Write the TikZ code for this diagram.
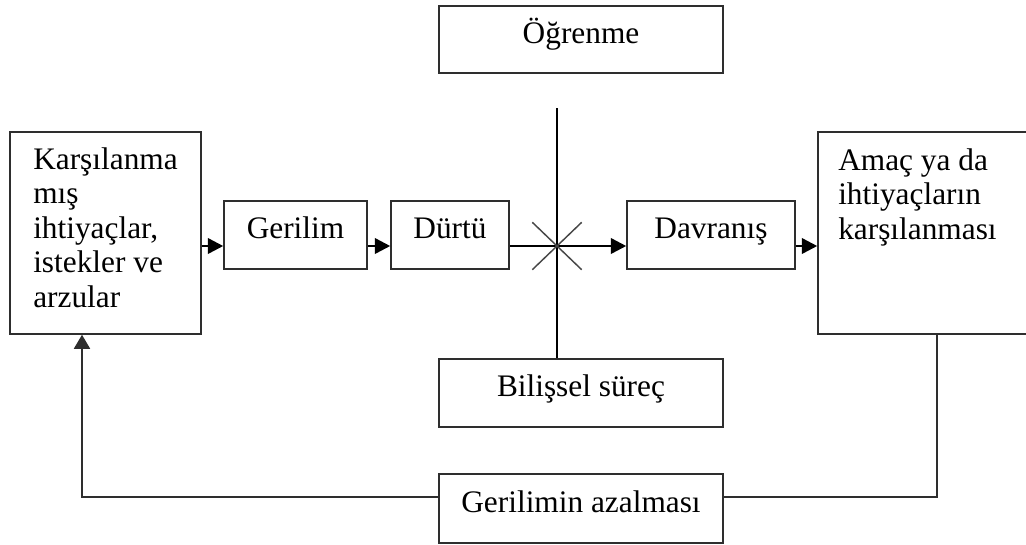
\documentclass[tikz,border=0pt]{standalone}
\usepackage{fontspec}
\setmainfont{Liberation Serif}
\usetikzlibrary{arrows.meta,shapes.misc}

\tikzset{
  box/.style={draw=black!82, line width=1.15pt, rectangle, inner sep=0pt,
    font=\fontsize{23.5}{25.9}\selectfont, text height=16pt, text depth=10.75pt},
  blocktext/.style={inner sep=0pt, anchor=base west},
  flow/.style={draw=black, line width=1.9pt,
    -{Triangle[length=11.5pt,width=11.5pt]}},
  feedback/.style={draw=black!82, line width=1.2pt},
  feedbackarrow/.style={feedback, line width=1.4pt,
    -{Triangle[length=10.5pt,width=12pt]}},
  divider/.style={draw=black, line width=1.1pt},
  crossmark/.style={draw=black!72, line width=1.1pt, cross out, inner sep=0pt,
    minimum width=36pt, minimum height=34.5pt},
}
\newcommand{\blocklines}[1]{\parbox[t]{8cm}{\raggedright
  \fontsize{23.5}{25.9}\selectfont #1}}

\begin{document}
\begin{tikzpicture}[x=0.75pt, y=-0.75pt]
  \clip (0,0) rectangle (1026,544);
  \fill[white] (0,0) rectangle (1026,544);

  % boxes
  \node[box, minimum width=213pt, minimum height=50.25pt] (ogr) at (581,39.5) {Öğrenme};
  \node[box, minimum width=143.25pt, minimum height=151.5pt] (kar) at (105.5,233) {};
  \node[box, minimum width=107.25pt, minimum height=51pt] (ger) at (295.5,235) {Gerilim};
  \node[box, minimum width=88.5pt, minimum height=51pt] (dur) at (450,235) {Dürtü};
  \node[box, minimum width=126pt, minimum height=51pt] (dav) at (711,235) {Davranış};
  \node[box, minimum width=170.25pt, minimum height=151.5pt] (ama) at (931.5,233) {};
  \node[box, minimum width=213pt, minimum height=51pt] (bil) at (581,393) {Bilişsel süreç};
  \node[box, minimum width=213pt, minimum height=51.75pt] (gaz) at (581,508.5) {Gerilimin azalması};

  % multi-line box texts
  \node[blocktext] (kartext) at (33,169)
    {\blocklines{Karşılanma\\mış\\ihtiyaçlar,\\istekler ve\\arzular}};
  \node[blocktext] (amatext) at (838,170)
    {\blocklines{Amaç ya da\\ihtiyaçların\\karşılanması}};

  % main flow
  \coordinate (flowline) at (0,246);
  \draw[flow] (kar.east |- flowline) -- (ger.west |- flowline);
  \draw[flow] (ger.east |- flowline) -- (dur.west |- flowline);
  \draw[flow] (dur.east |- flowline) -- (dav.west |- flowline);
  \draw[flow] (dav.east |- flowline) -- (ama.west |- flowline);

  % vertical divider with the cross on the flow line
  \coordinate (dividertop) at (557,108);
  \draw[divider] (dividertop) -- (dividertop |- bil.north);
  \node[crossmark] (cross) at (557,246) {};

  % feedback loop
  \coordinate (loopline) at (0,497);
  \coordinate (drop) at (937,0);
  \coordinate (rise) at (82,0);
  \draw[feedback] (ama.south -| drop) |- (gaz.east |- loopline);
  \draw[feedbackarrow] (gaz.west |- loopline) -| (kar.south -| rise);
\end{tikzpicture}
\end{document}
